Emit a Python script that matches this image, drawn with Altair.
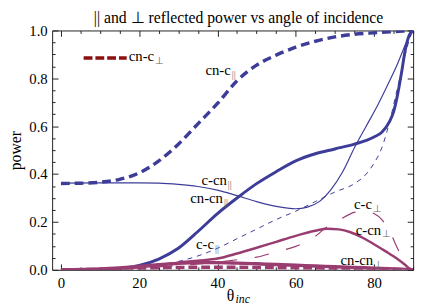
import altair as alt
import pandas as pd

# ---------------- data ----------------
cnc_par_t = [0, 5, 10, 15, 20, 25, 30, 35, 40, 45, 50, 55, 60, 65, 70, 75, 80, 85, 90]
cnc_par_v = [0.361, 0.362, 0.366, 0.378, 0.405, 0.455, 0.525, 0.61, 0.695, 0.79, 0.855,
             0.897, 0.93, 0.955, 0.973, 0.984, 0.99, 0.995, 1.0]

ccn_par_t = [0, 10, 20, 25, 30, 35, 40, 45, 50, 55, 60, 63, 66, 69, 72, 75, 78, 81, 84, 86, 88, 89, 90]
ccn_par_v = [0.362, 0.363, 0.363, 0.362, 0.357, 0.348, 0.333, 0.31, 0.285, 0.265, 0.255, 0.262,
             0.285, 0.335, 0.41, 0.51, 0.60, 0.69, 0.79, 0.86, 0.94, 0.975, 1.0]

cncn_par_t = [0, 10, 15, 20, 25, 30, 35, 40, 45, 50, 55, 60, 65, 70, 75, 80, 82, 84, 85, 86, 87, 88, 89, 90]
cncn_par_v = [0.0, 0.001, 0.005, 0.018, 0.045, 0.09, 0.16, 0.235, 0.30, 0.36, 0.41, 0.455, 0.485,
              0.505, 0.525, 0.555, 0.575, 0.62, 0.66, 0.73, 0.82, 0.92, 0.98, 1.0]

cc_par_t = [0, 10, 20, 25, 30, 35, 40, 45, 50, 55, 60, 65, 70, 75, 78, 80, 82, 84, 86, 88, 89, 90]
cc_par_v = [0.0, 0.002, 0.008, 0.018, 0.035, 0.058, 0.09, 0.13, 0.17, 0.21, 0.245, 0.285, 0.325,
            0.36, 0.40, 0.445, 0.51, 0.62, 0.76, 0.90, 0.96, 1.0]

cc_perp_t = [0, 10, 20, 30, 40, 45, 50, 55, 60, 65, 68, 71, 75, 78, 80, 82, 84, 86, 88, 89, 90]
cc_perp_v = [0.0, 0.002, 0.008, 0.018, 0.032, 0.042, 0.053, 0.075, 0.098, 0.14, 0.18, 0.207,
             0.24, 0.245, 0.235, 0.21, 0.16, 0.09, 0.025, 0.006, 0.0]

ccn_perp_t = [0, 10, 20, 25, 30, 35, 40, 45, 50, 55, 60, 65, 68, 71, 74, 77, 80, 83, 86, 88, 89, 90]
ccn_perp_v = [0.0, 0.003, 0.012, 0.02, 0.03, 0.038, 0.047, 0.068, 0.092, 0.117, 0.142, 0.163,
              0.172, 0.169, 0.157, 0.135, 0.107, 0.077, 0.045, 0.02, 0.006, 0.0]

cncn_perp_t = [0, 10, 20, 25, 30, 35, 40, 45, 50, 55, 60, 65, 70, 75, 80, 85, 88, 90]
cncn_perp_v = [0.0, 0.004, 0.014, 0.021, 0.027, 0.03, 0.03, 0.028, 0.025, 0.022, 0.019, 0.016,
               0.013, 0.01, 0.007, 0.004, 0.002, 0.0]

cnc_perp_t = [0, 10, 20, 30, 40, 50, 60, 70, 80, 90]
cnc_perp_v = [0.0, 0.002, 0.006, 0.01, 0.011, 0.01, 0.008, 0.006, 0.003, 0.0]

# curve labels: main text, subscript, anchor position (theta, power)
label_main = ["cn-c", "c-cn", "cn-cn", "c-c", "c-c", "c-cn", "cn-cn", "cn-c"]
label_sub = ["||", "||", "||", "||", "⊥", "⊥", "⊥", "⊥"]
label_theta = [43.4, 42.4, 41.4, 39.1, 79.5, 81.8, 79.8, 23.8]
label_power = [0.836, 0.373, 0.30, 0.107, 0.275, 0.168, 0.041, 0.893]

legend_theta = [5.8, 16.8]
legend_power = [0.885, 0.885]

x_label_values = [0, 20, 40, 60, 80]
y_label_values = [0.0, 0.2, 0.4, 0.6, 0.8, 1.0]
x_tick_values = list(range(0, 91, 5))
y_tick_values = [i / 20 for i in range(0, 21)]

TITLE = "|| and ⊥ reflected power vs angle of incidence"

# ---------------- styling ----------------
FONT = "Liberation Serif"
BLUE = "#3d3d99"
MAGENTA = "#993d71"
LEGEND_RED = "#8c0f0f"
FRAME = "#222222"
W, H = 368, 244

xscale = alt.Scale(domain=[-2.25, 90], nice=False, zero=False)
yscale = alt.Scale(domain=[0, 1], nice=False, zero=False)

x_axis_main = alt.Axis(orient="bottom", values=x_label_values, format="d", ticks=False,
                       tickSize=0, domain=False, grid=False, labelFont=FONT,
                       labelFontSize=15, labelColor="black", labelPadding=6, title=None)
y_axis_main = alt.Axis(orient="left", values=y_label_values, format=".1f", ticks=False,
                       tickSize=0, domain=False, grid=False, labelFont=FONT,
                       labelFontSize=15, labelColor="black", labelPadding=5,
                       title="power", titleFont=FONT, titleFontSize=16,
                       titleFontWeight="normal", titleColor="black", titlePadding=6)

X = alt.X("theta:Q", scale=xscale, axis=x_axis_main)
Y = alt.Y("power:Q", scale=yscale, axis=y_axis_main)

series = [
    (cc_par_t, cc_par_v, BLUE, 1.0, [5, 5]),
    (ccn_par_t, ccn_par_v, BLUE, 1.2, None),
    (cncn_par_t, cncn_par_v, BLUE, 3.0, None),
    (cnc_par_t, cnc_par_v, BLUE, 3.5, [9, 5]),
    (cc_perp_t, cc_perp_v, MAGENTA, 1.2, [15, 18]),
    (cnc_perp_t, cnc_perp_v, MAGENTA, 3.5, [9, 4]),
    (cncn_perp_t, cncn_perp_v, MAGENTA, 3.5, None),
    (ccn_perp_t, ccn_perp_v, MAGENTA, 2.5, None),
]

layers = []
for t, v, color, width, dash in series:
    kw = dict(color=color, strokeWidth=width, interpolate="monotone", clip=True)
    if dash:
        kw["strokeDash"] = dash
    df = pd.DataFrame({"theta": t, "power": v})
    layers.append(alt.Chart(df).mark_line(**kw).encode(x=X, y=Y))

legend_df = pd.DataFrame({"theta": legend_theta, "power": legend_power})
layers.append(alt.Chart(legend_df).mark_line(color=LEGEND_RED, strokeWidth=3.5,
                                             strokeDash=[9, 3]).encode(x=X, y=Y))

lab_df = pd.DataFrame({"theta": label_theta, "power": label_power,
                       "main": label_main, "sub": label_sub})
layers.append(alt.Chart(lab_df).mark_text(align="right", baseline="middle", font=FONT,
                                          fontSize=15, color="black")
              .encode(x=X, y=Y, text="main:N"))
layers.append(alt.Chart(lab_df).mark_text(align="left", baseline="middle", font=FONT,
                                          fontSize=10, color="#666666", dy=5, dx=1)
              .encode(x=X, y=Y, text="sub:N"))

one = pd.DataFrame({"a": [0]})
layers.append(alt.Chart(one).mark_text(text="θ", font=FONT, fontSize=16, align="left",
                                       baseline="alphabetic", color="black")
              .encode(x=alt.value(178), y=alt.value(276)))
layers.append(alt.Chart(one).mark_text(text="inc", font=FONT, fontSize=12, fontStyle="italic",
                                       align="left", baseline="alphabetic", color="black")
              .encode(x=alt.value(187), y=alt.value(278)))

main = alt.layer(*layers)

x_major = {"condition": {"test": "datum.value % 20 === 0", "value": 6}, "value": 3}
y_major = {"condition": {"test": "abs(datum.value * 5 - round(datum.value * 5)) < 0.001",
                         "value": 6}, "value": 3}

tick_df = pd.DataFrame({"theta": [0.0], "power": [0.0]})


def tick_layer(xorient, yorient):
    return alt.Chart(tick_df).mark_point(opacity=0).encode(
        x=alt.X("theta:Q", scale=xscale,
                axis=alt.Axis(orient=xorient, offset=-H, values=x_tick_values, labels=False,
                              domain=False, grid=False, title=None, tickColor=FRAME,
                              tickWidth=1, tickSize=x_major)),
        y=alt.Y("power:Q", scale=yscale,
                axis=alt.Axis(orient=yorient, offset=-W, values=y_tick_values, labels=False,
                              domain=False, grid=False, title=None, tickColor=FRAME,
                              tickWidth=1, tickSize=y_major)),
    )


chart = (
    alt.layer(main, tick_layer("top", "right"), tick_layer("bottom", "left"))
    .resolve_axis(x="independent", y="independent")
    .properties(
        width=W, height=H,
        padding={"left": 45, "top": 20, "right": 7, "bottom": 35},
        autosize=alt.AutoSizeParams(type="none"),
        title=alt.TitleParams(text=TITLE, font=FONT, fontSize=16, fontWeight="normal",
                              color="black", offset=-2, dx=6, anchor="middle"),
    )
    .configure(background="white")
    .configure_title(font=FONT, fontWeight="normal")
    .configure_view(stroke=FRAME, strokeWidth=1)
)

chart.save("out.html", embed_options={"renderer": "svg", "actions": False})
